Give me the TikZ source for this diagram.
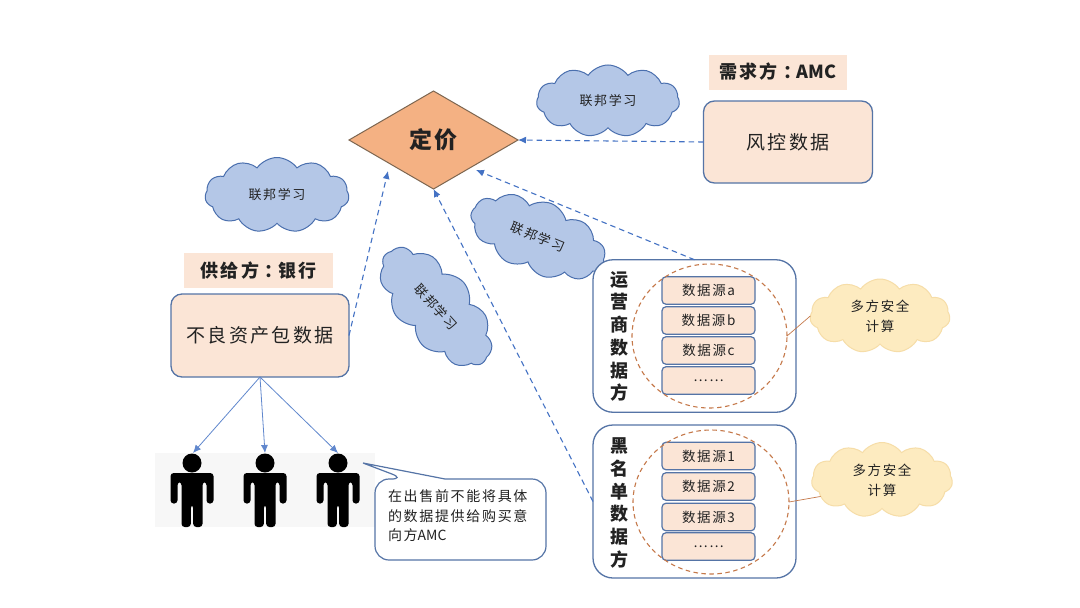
\documentclass[tikz,border=0pt]{standalone}
\usepackage{fontspec}
\setmainfont[LetterSpace=12]{Noto Sans CJK SC}
\usetikzlibrary{shapes.geometric,shapes.symbols,arrows.meta}
\definecolor{boxfill}{HTML}{FBE5D6}
\definecolor{boxline}{HTML}{5574A6}
\definecolor{cloudblue}{HTML}{B4C7E7}
\definecolor{cloudline}{HTML}{4A6FAE}
\definecolor{cloudyellow}{HTML}{FDEBC0}
\definecolor{cloudyline}{HTML}{F6DDA8}
\definecolor{flow}{HTML}{4472C4}
\definecolor{ring}{HTML}{C5794A}
\definecolor{ink}{HTML}{222222}
\definecolor{pricefill}{HTML}{F4B183}
\definecolor{priceline}{HTML}{7D6650}
\newcommand{\fs}[2]{\fontsize{#1}{#2}\selectfont}
\newcommand{\tight}[1]{{\addfontfeature{LetterSpace=0}#1}}
\newcommand{\widecolon}{\kern.3em\char"FF1A\kern-.25em}
\newcommand{\personfig}[1]{%
  \fill[black] (#1,463) circle[radius=9.5];
  \fill[black,rounded corners=3.2pt] (#1-21.5,473)--(#1+21.5,473)--(#1+21.5,503.5)--(#1+14.5,503.5)--(#1+14.5,482)--(#1+10.5,482)--(#1+10.5,527)--(#1+1.2,527)--(#1+1.2,505)--(#1-1.2,505)--(#1-1.2,527)--(#1-10.5,527)--(#1-10.5,482)--(#1-14.5,482)--(#1-14.5,503.5)--(#1-21.5,503.5)--cycle;
}
\tikzset{
  x=1pt,y=-1pt,
  every node/.style={text=ink,inner sep=0pt,outer sep=0pt},
  databox/.style={draw=boxline,fill=boxfill,line width=1.3pt,rounded corners=11pt},
  tagbox/.style={fill=boxfill,font=\fs{18}{22}\bfseries},
  partybox/.style={draw=boxline,fill=white,line width=1.3pt,rounded corners=20pt},
  srcbox/.style={draw=boxline,fill=boxfill,line width=1.2pt,rounded corners=4pt,minimum width=93pt,minimum height=27.5pt,font=\fs{13.5}{16}},
  bluecloud/.style={cloud,cloud ignores aspect,cloud puffs=11,cloud puff arc=110,draw=cloudline,fill=cloudblue,line width=1pt,font=\fs{13}{15}},
  yellowcloud/.style={cloud,cloud ignores aspect,cloud puffs=11,cloud puff arc=110,draw=cloudyline,fill=cloudyellow,line width=1pt,font=\fs{13.5}{20},align=center},
  ringnode/.style={ellipse,draw=ring,line width=1.1pt,dash pattern=on 4.5pt off 3.5pt},
  vtext/.style={align=center,font=\fs{18}{22.7}\bfseries},
  flowdash/.style={draw=flow,line width=1.1pt,dash pattern=on 5.5pt off 4pt,-{Latex[length=8pt,width=7pt]}},
  flowthin/.style={draw=flow!85,line width=.8pt,-{Latex[length=8pt,width=7pt]}},
}
\begin{document}
\begin{tikzpicture}
\useasboundingbox (0,0) rectangle (1080,608);
\fill[white] (0,0) rectangle (1080,608);

% clouds
\node[bluecloud,minimum width=143pt,minimum height=72pt] (cl1) at (608,101) {联邦学习};
\node[bluecloud,minimum width=144pt,minimum height=75pt] (cl2) at (277,195) {联邦学习};
\node[bluecloud,minimum width=142pt,minimum height=72pt,rotate=-22] (cl3) at (538,237) {联邦学习};
\node[bluecloud,minimum width=146pt,minimum height=74pt,rotate=-48] (cl4) at (436,307) {联邦学习};

% diamond
\node[diamond,aspect=1.73,minimum width=169pt,minimum height=98pt,draw=priceline,fill=pricefill,line width=1pt,font=\fs{23}{26}\bfseries] (dia) at (433.5,140) {定价};

% demand side
\node[tagbox,minimum width=138pt,minimum height=35pt] (tagA) at (778,72) {需求方\widecolon\tight{AMC}};
\node[databox,minimum width=169pt,minimum height=82pt,font=\fs{19}{24}] (risk) at (788,142) {风控数据};

% supply side
\node[tagbox,minimum width=149pt,minimum height=35pt] (tagB) at (258.5,270.5) {供给方\widecolon 银行};
\node[databox,minimum width=178pt,minimum height=83pt,font=\fs{19}{24}] (bad) at (260,335.5) {不良资产包数据};

% people
\fill[black!3] (155,453) rectangle (375,527);
\personfig{192}
\personfig{265}
\personfig{338}
\coordinate (p1) at (193,453);
\coordinate (p2) at (265,453);
\coordinate (p3) at (338,453);
\draw[flowthin] (bad.south) -- (p1);
\draw[flowthin] (bad.south) -- (p2);
\draw[flowthin] (bad.south) -- (p3);

% callout
\draw[draw=boxline,fill=white,line width=1.2pt,rounded corners=14pt]
  (405,479) [sharp corners] -- (363,463) -- (445,479) [rounded corners=14pt] -- (546,479) -- (546,560) -- (375,560) -- (375,479) -- cycle;
\node[align=left,anchor=north west,font=\fs{14}{19.5}] (note) at (388,490) {在出售前不能将具体\\的数据提供给购买意\\向方\tight{AMC}};

% operator party
\node[partybox,minimum width=203pt,minimum height=152.5pt] (op) at (694.5,336) {};
\node[vtext] (opt) at (619,336.5) {运\\营\\商\\数\\据\\方};
\node[srcbox] (a1) at (708.5,290.5) {数据源a};
\node[srcbox] (a2) at (708.5,320.5) {数据源b};
\node[srcbox] (a3) at (708.5,350.5) {数据源c};
\node[srcbox] (a4) at (708.5,380.5) {……};
\node[ringnode,minimum width=155pt,minimum height=144pt] (ringA) at (709.5,336) {};
\node[yellowcloud,minimum width=140pt,minimum height=74pt] (cy1) at (880,316) {多方安全\\计算};
\draw[draw=ring,line width=.7pt] (ringA.east) -- (cy1.west);

% blacklist party
\node[partybox,minimum width=203pt,minimum height=153pt] (bl) at (694.5,501.5) {};
\node[vtext] (blt) at (619,503) {黑\\名\\单\\数\\据\\方};
\node[srcbox] (b1) at (708.5,456) {数据源1};
\node[srcbox] (b2) at (708.5,486.5) {数据源2};
\node[srcbox] (b3) at (708.5,517) {数据源3};
\node[srcbox] (b4) at (708.5,546.5) {……};
\node[ringnode,minimum width=156pt,minimum height=144pt] (ringB) at (711,502) {};
\node[yellowcloud,minimum width=141pt,minimum height=75pt] (cy2) at (882,480) {多方安全\\计算};
\draw[draw=ring,line width=.7pt] (ringB.east) -- (cy2.195);

% flows to pricing
\coordinate (tipA) at (388,171);
\coordinate (tipB) at (476,170);
\draw[flowdash] (risk.west) -- (dia.east);
\draw[flowdash] (op.north) -- (tipB);
\draw[flowdash] (bad.east) -- (tipA);
\draw[flowdash] (bl.west) -- (dia.south);
\end{tikzpicture}
\end{document}
